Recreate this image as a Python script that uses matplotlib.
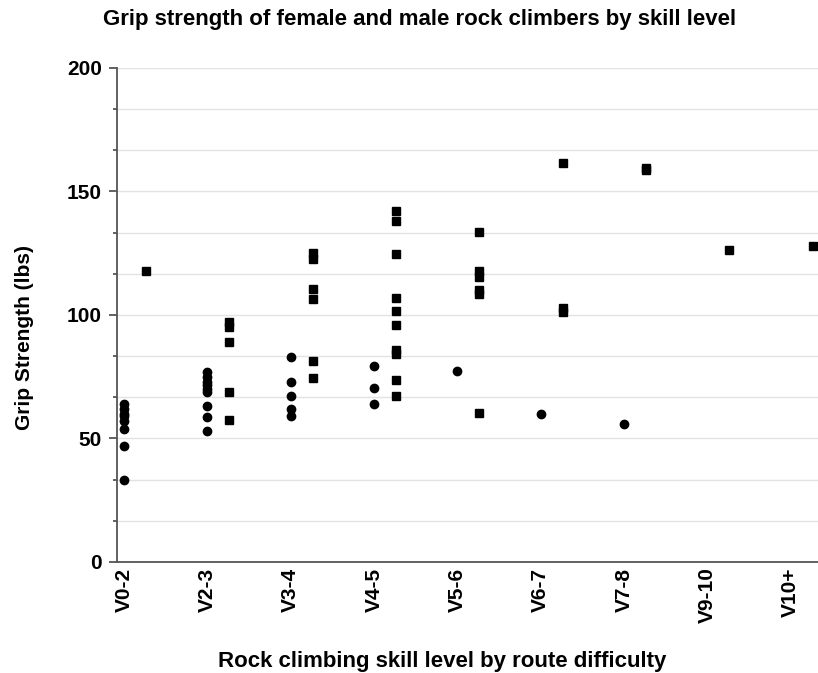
import matplotlib
matplotlib.use("Agg")
import matplotlib.pyplot as plt
from matplotlib.ticker import MultipleLocator

plt.rcParams['font.family'] = ['Liberation Sans', 'DejaVu Sans']
plt.rcParams['font.weight'] = 'bold'

levels = ["V0-2", "V2-3", "V3-4", "V4-5", "V5-6", "V6-7", "V7-8", "V9-10", "V10+"]

# grip strength (lbs) per skill level
female = {
    "V0-2": [64, 62, 60, 59, 57, 54, 47, 33],
    "V2-3": [77, 75, 73, 71.5, 70, 69, 63, 58.5, 53],
    "V3-4": [83, 73, 67, 62, 59],
    "V4-5": [79.5, 70.5, 64],
    "V5-6": [77.5],
    "V6-7": [60],
    "V7-8": [56],
}
male = {
    "V0-2": [118],
    "V2-3": [97, 95, 89, 69, 57.5],
    "V3-4": [125, 122.5, 110.5, 106.5, 81.5, 74.5],
    "V4-5": [142, 138, 124.5, 107, 101.5, 96, 86, 84, 73.5, 67],
    "V5-6": [133.5, 118, 115.5, 110, 108.5, 60.5],
    "V6-7": [161.5, 103, 101],
    "V7-8": [159.5, 158.5],
    "V9-10": [126.5],
    "V10+": [128],
}

male_shift = 0.265

fig = plt.figure(figsize=(8.18, 6.73), dpi=100)
ax = fig.add_axes([0.143, 0.165, 0.857, 0.734])

for i, lv in enumerate(levels):
    if lv in female:
        ax.plot([i] * len(female[lv]), female[lv], 'o', color='black', markersize=6, zorder=3)
    if lv in male:
        ax.plot([i + male_shift] * len(male[lv]), male[lv], 's', color='black', markersize=5.3, zorder=3)

ax.set_xlim(-0.084, 8.33)
ax.set_ylim(0, 200)
ax.yaxis.set_major_locator(MultipleLocator(50))
ax.yaxis.set_minor_locator(MultipleLocator(50 / 3))
ax.grid(True, which='both', axis='y', color='#e2e2e2', linewidth=1)
ax.set_axisbelow(True)

ax.set_xticks(range(len(levels)))
ax.set_xticklabels(levels, rotation=90, fontsize=15, fontweight='bold', va='top')
ax.tick_params(axis='x', length=0, pad=4)
ax.tick_params(axis='y', which='major', length=6, width=1.3, color='#555555', labelsize=15, pad=5)
ax.tick_params(axis='y', which='minor', length=3, width=1.3, color='#555555')

for s in ['top', 'right']:
    ax.spines[s].set_visible(False)
for s in ['left', 'bottom']:
    ax.spines[s].set_color('#555555')
    ax.spines[s].set_linewidth(1.3)

fig.text(25 / 818, 1 - 337 / 673, "Grip Strength (lbs)", rotation=90,
         ha='center', va='center', fontsize=15, fontweight='bold')
fig.text(442 / 818, 1 - 662 / 673, "Rock climbing skill level by route difficulty",
         ha='center', va='center', fontsize=16, fontweight='bold')
fig.text(420 / 818, 1 - 19 / 673, "Grip strength of female and male rock climbers by skill level",
         ha='center', va='center', fontsize=16, fontweight='bold')

fig.savefig("out.png", dpi=100)
